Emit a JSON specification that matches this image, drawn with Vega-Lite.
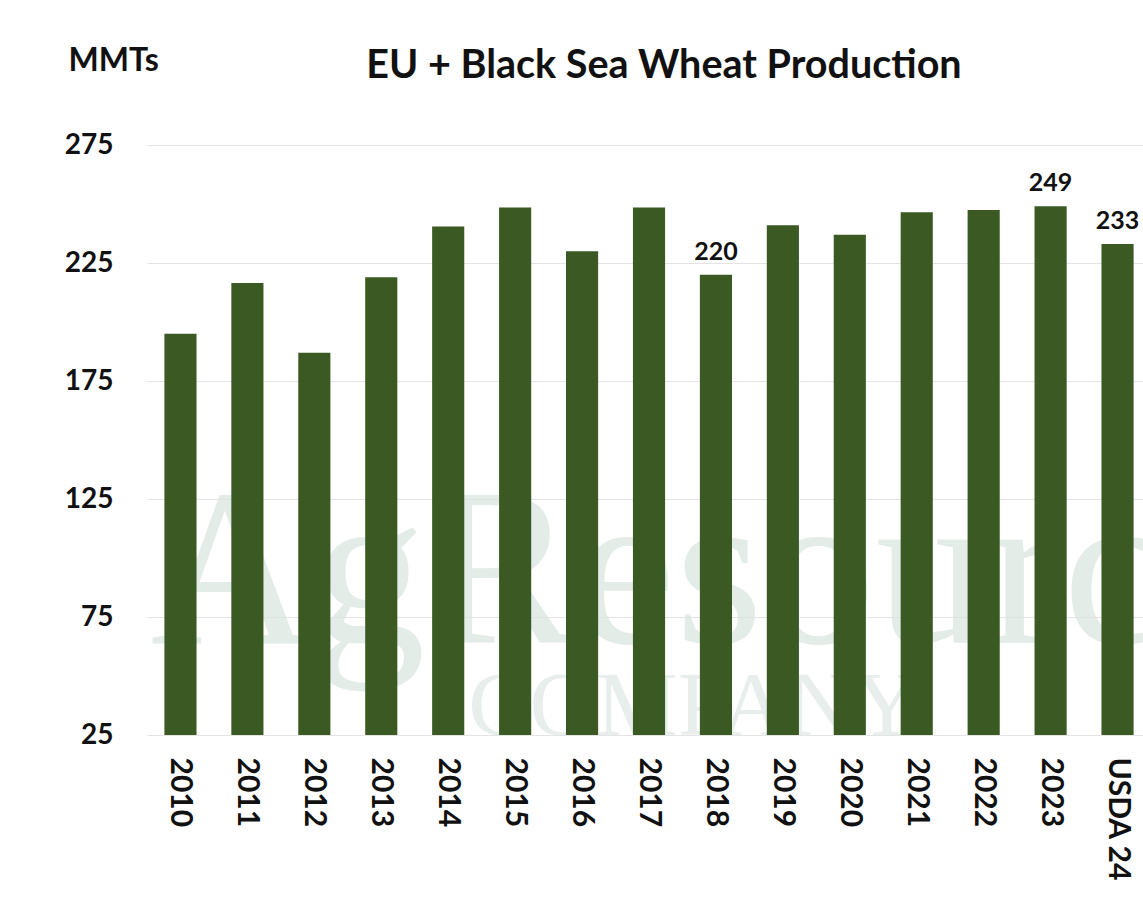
{
  "$schema": "https://vega.github.io/schema/vega-lite/v6.json",
  "autosize": "none",
  "width": 1004,
  "height": 590,
  "padding": {"left": 147, "top": 145, "right": 0, "bottom": 178},
  "background": "white",
  "config": {
    "font": "Lato",
    "view": {"stroke": null},
    "axis": {"grid": true, "gridColor": "#e4e4e4", "gridWidth": 1, "domain": false, "ticks": false}
  },
  "title": {
    "text": "EU + Black Sea Wheat Production",
    "fontSize": 39.5,
    "fontWeight": "bold",
    "font": "Lato",
    "color": "#111111",
    "anchor": "middle",
    "baseline": "alphabetic",
    "dx": 15,
    "offset": -73
  },
  "datasets": {
    "wheat": [
      {"year": "2010", "mmt": 195},
      {"year": "2011", "mmt": 216.5},
      {"year": "2012", "mmt": 187},
      {"year": "2013", "mmt": 219},
      {"year": "2014", "mmt": 240.5},
      {"year": "2015", "mmt": 248.5},
      {"year": "2016", "mmt": 230},
      {"year": "2017", "mmt": 248.5},
      {"year": "2018", "mmt": 220, "label": "220"},
      {"year": "2019", "mmt": 241},
      {"year": "2020", "mmt": 237},
      {"year": "2021", "mmt": 246.5},
      {"year": "2022", "mmt": 247.5},
      {"year": "2023", "mmt": 249, "label": "249"},
      {"year": "USDA 24", "mmt": 233, "label": "233"}
    ],
    "watermark": [
      {"year": "2010", "mmt": 64, "wm": "AgResource"}
    ],
    "watermark2": [
      {"year": "2017", "mmt": 25, "wm": "COMPANY"}
    ]
  },
  "layer": [
    {
      "data": {"name": "watermark"},
      "mark": {"type": "text", "font": "Liberation Serif", "fontSize": 225, "align": "left", "baseline": "alphabetic", "color": "#d9e4df", "opacity": 0.7, "dx": -30},
      "encoding": {
        "x": {
          "field": "year",
          "type": "nominal",
          "scale": {
            "domain": ["2010", "2011", "2012", "2013", "2014", "2015", "2016", "2017", "2018", "2019", "2020", "2021", "2022", "2023", "USDA 24"],
            "paddingInner": 0.52,
            "paddingOuter": 0.26
          },
          "axis": {
            "title": null,
            "grid": false,
            "labelAngle": 90,
            "labelAlign": "left",
            "labelBaseline": "middle",
            "labelPadding": 22,
            "labelFontSize": 30,
            "labelFontWeight": "bold",
            "labelColor": "#111111"
          }
        },
        "y": {
          "field": "mmt",
          "type": "quantitative",
          "scale": {"domain": [25, 275], "nice": false, "zero": false},
          "axis": {
            "values": [25, 75, 125, 175, 225, 275],
            "labelFontSize": 28,
            "labelFontWeight": "bold",
            "labelColor": "#111111",
            "labelPadding": 34,
            "title": "MMTs",
            "titleAngle": 0,
            "titleAlign": "left",
            "titleBaseline": "alphabetic",
            "titleX": -79,
            "titleY": -75,
            "titleFontSize": 32,
            "titleFontWeight": "bold",
            "titleColor": "#111111"
          }
        },
        "text": {"field": "wm"}
      }
    },
    {
      "data": {"name": "watermark2"},
      "mark": {"type": "text", "font": "Liberation Serif", "fontSize": 92, "align": "center", "baseline": "alphabetic", "color": "#dfe7e3", "opacity": 0.7, "dx": 45},
      "encoding": {
        "x": {"field": "year", "type": "nominal"},
        "y": {"field": "mmt", "type": "quantitative"},
        "text": {"field": "wm"}
      }
    },
    {
      "data": {"name": "wheat"},
      "mark": {"type": "bar", "color": "#3b5923", "clip": true},
      "encoding": {
        "x": {"field": "year", "type": "nominal"},
        "y": {"field": "mmt", "type": "quantitative"}
      }
    },
    {
      "data": {"name": "wheat"},
      "transform": [{"filter": "datum.label"}],
      "mark": {"type": "text", "baseline": "bottom", "dy": -10, "fontSize": 25, "fontWeight": "bold", "color": "#111111"},
      "encoding": {
        "x": {"field": "year", "type": "nominal"},
        "y": {"field": "mmt", "type": "quantitative"},
        "text": {"field": "label"}
      }
    }
  ]
}
